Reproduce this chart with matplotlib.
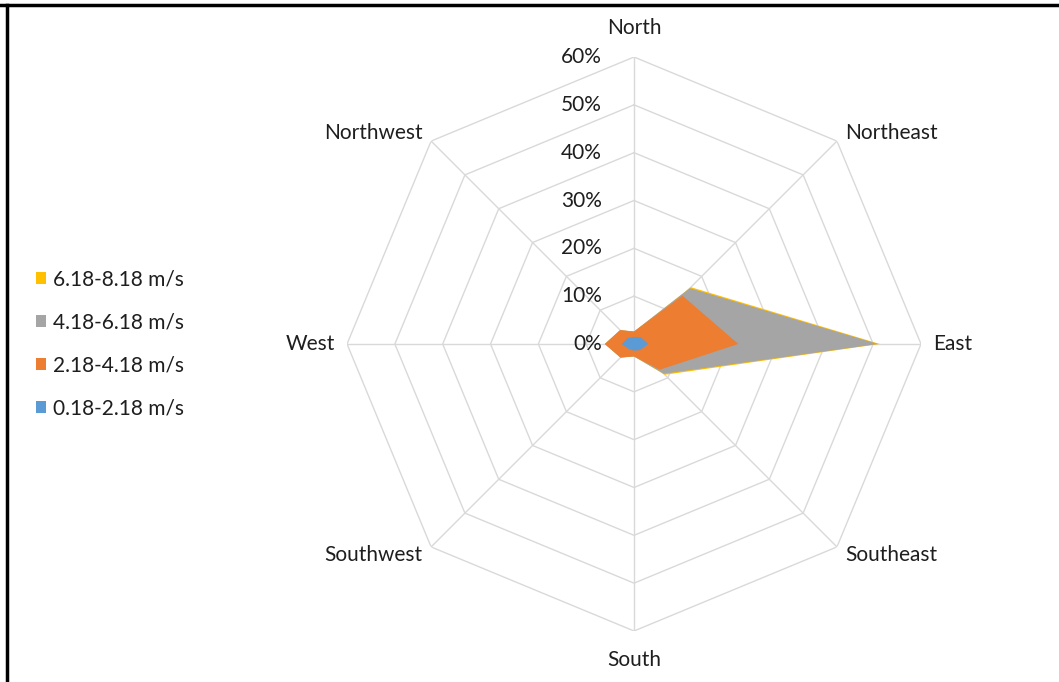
import numpy as np
import matplotlib.pyplot as plt
from matplotlib.patches import Patch
from matplotlib.lines import Line2D

plt.rcParams['font.family'] = ['Lato', 'DejaVu Sans']

# wind directions, clockwise from north
directions = ['North', 'Northeast', 'East', 'Southeast',
              'South', 'Southwest', 'West', 'Northwest']

# frequency (%) per speed class, in direction order
s_0_2 = [1.5, 2.0, 3.0, 1.8, 1.4, 1.5, 2.6, 1.8]        # 0.18-2.18 m/s
s_2_4 = [2.6, 14.3, 21.8, 7.6, 2.6, 4.0, 6.1, 4.1]      # 2.18-4.18 m/s
s_4_6 = [2.6, 16.5, 51.0, 8.8, 2.6, 4.0, 6.1, 4.1]      # 4.18-6.18 m/s
s_6_8 = [2.6, 16.8, 51.4, 9.1, 2.6, 4.0, 6.1, 4.1]      # 6.18-8.18 m/s

labels = ['6.18-8.18 m/s', '4.18-6.18 m/s', '2.18-4.18 m/s', '0.18-2.18 m/s']
colors = ['#FFC000', '#A5A5A5', '#ED7D31', '#5B9BD5']

r_ticks = [0, 10, 20, 30, 40, 50, 60]
fs = 15
tc = '#1e1e1e'

fig = plt.figure(figsize=(10.59, 6.82), dpi=100)
ax = fig.add_axes([0.3277, 0.0748, 0.542, 0.8416], projection='polar')
ax.set_theta_zero_location('N')
ax.set_theta_direction(-1)
ax.set_ylim(0, 60)
ax.grid(False)
ax.spines['polar'].set_visible(False)
ax.set_xticks([])
ax.set_yticks([])

theta = np.deg2rad(np.arange(len(directions)) * 45)
theta_c = np.append(theta, theta[0])

# octagon gridlines + spokes
for r in r_ticks[1:]:
    ax.plot(theta_c, [r] * len(theta_c), color='#d9d9d9', lw=1, zorder=1)
for t in theta:
    ax.plot([t, t], [0, 60], color='#d9d9d9', lw=1, zorder=1)

# series, bottom to top
for vals, c in zip([s_6_8, s_4_6, s_2_4, s_0_2], colors):
    v = np.append(vals, vals[0])
    ax.fill(theta_c, v, color=c, lw=0, zorder=2)

# radial labels along north axis
for r in r_ticks:
    ax.annotate(f'{r}%', xy=(0, r), xytext=(-32, 0), textcoords='offset pixels',
                ha='right', va='center', fontsize=fs, color=tc, zorder=3)

# direction labels
for name, t in zip(directions, theta):
    s = np.sin(t)
    if abs(s) < 1e-6:
        ax.text(t, 66, name, ha='center', va='center', fontsize=fs, color=tc)
    else:
        ax.text(t, 62.5, name, ha='left' if s > 0 else 'right', va='center',
                fontsize=fs, color=tc)

handles = [Patch(facecolor=c, edgecolor='none') for c in colors]
fig.legend(handles, labels, loc='center left', bbox_to_anchor=(0.034, 0.4956),
           frameon=False, fontsize=fs, handlelength=0.5, handleheight=0.5,
           handletextpad=0.3, labelspacing=1.1, borderaxespad=0, borderpad=0,
           labelcolor=tc)

# frame lines top/left like the screenshot
fig.add_artist(Line2D([0, 1], [1 - 5 / 682] * 2, color='black', lw=2.5))
fig.add_artist(Line2D([7 / 1059] * 2, [0, 1 - 5 / 682], color='black', lw=2.5))

fig.savefig('out.png', dpi=100)
